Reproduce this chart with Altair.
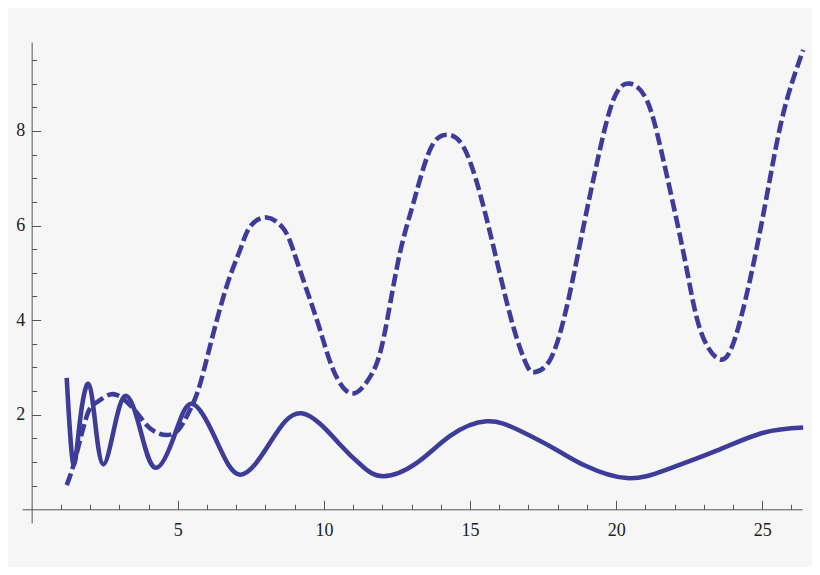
import altair as alt
import pandas as pd

# Solid curve
solid_x = [1.20, 1.42, 1.65, 1.94, 2.18, 2.45, 2.82, 3.22, 3.70, 4.22, 4.88, 5.48,
           6.30, 7.13, 8.15, 9.24, 10.55, 11.30, 12.03, 13.18, 14.32, 15.57, 16.71,
           17.95, 18.95, 20.36, 21.73, 23.44, 25.04, 26.40]
solid_y = [2.78, 0.97, 1.85, 2.65, 1.80, 0.95, 1.70, 2.40, 1.72, 0.88, 1.55, 2.23,
           1.48, 0.73, 1.40, 2.03, 1.37, 0.92, 0.70, 0.98, 1.55, 1.86, 1.66,
           1.26, 0.92, 0.66, 0.84, 1.24, 1.62, 1.73]

# Dashed curve
dash_x = [1.20, 1.48, 1.88, 2.17, 2.51, 2.90, 3.42, 3.88, 4.22, 4.62, 5.02, 5.36,
          5.70, 6.10, 6.67, 7.13, 7.47, 8.04, 8.61, 8.95, 9.41, 9.87, 10.32, 10.95,
          11.58, 12.03, 12.55, 13.06, 13.63, 14.20, 14.77, 15.34, 15.91, 16.48,
          16.94, 17.22, 17.74, 18.31, 18.88, 19.34, 19.90, 20.48, 21.05, 21.51,
          21.97, 22.42, 22.88, 23.50, 24.01, 24.58, 25.15, 25.72, 26.40]
dash_y = [0.51, 1.04, 1.96, 2.24, 2.38, 2.42, 2.17, 1.82, 1.64, 1.57, 1.68, 2.03,
          2.52, 3.44, 4.71, 5.48, 5.97, 6.17, 5.94, 5.48, 4.64, 3.79, 2.95, 2.45,
          2.80, 3.58, 5.27, 6.47, 7.60, 7.92, 7.67, 6.68, 5.27, 3.86,
          3.05, 2.90, 3.16, 4.28, 5.97, 7.31, 8.65, 9.00, 8.65, 7.67,
          6.40, 5.06, 3.79, 3.18, 3.51, 4.85, 6.61, 8.37, 9.71]

x_minor = list(range(1, 27))
x_major = [5, 10, 15, 20, 25]
y_minor = [i * 0.5 for i in range(1, 20)]
y_major = [2, 4, 6, 8]

X_DOMAIN = [-0.33, 26.36]
Y_DOMAIN = [-0.29, 9.88]
W, H = 780, 481
PX0 = (0 - X_DOMAIN[0]) / (X_DOMAIN[1] - X_DOMAIN[0]) * W
PY0 = (Y_DOMAIN[1] - 0) / (Y_DOMAIN[1] - Y_DOMAIN[0]) * H

LINE = "#3d3d99"
AX = "#555555"
FONT = "Liberation Serif"

solid_df = pd.DataFrame({"x": solid_x, "y": solid_y})
dash_df = pd.DataFrame({"x": dash_x, "y": dash_y})

xs = alt.Scale(domain=X_DOMAIN, nice=False, zero=False)
ys = alt.Scale(domain=Y_DOMAIN, nice=False, zero=False)

solid = alt.Chart(solid_df).mark_line(
    color=LINE, strokeWidth=4.6, interpolate="natural"
).encode(
    x=alt.X("x:Q", scale=xs, axis=alt.Axis(
        orient="top", offset=-PY0, values=x_minor, tickSize=5, tickColor=AX,
        tickWidth=1, domain=False, grid=False, title=None,
        labelExpr="datum.value % 5 == 0 ? '' + datum.value : ''",
        labelPadding=-17, labelBaseline="top", labelFont=FONT, labelFontSize=18,
        labelColor="#222222", labelOverlap=False, labelFlush=False)),
    y=alt.Y("y:Q", scale=ys, axis=alt.Axis(
        orient="right", offset=PX0 - W, values=y_minor, tickSize=5, tickColor=AX,
        tickWidth=1, domain=False, grid=False, title=None,
        labelExpr="datum.value % 2 == 0 ? '' + datum.value : ''",
        labelPadding=-12, labelAlign="right", labelBaseline="middle",
        labelFont=FONT, labelFontSize=18, labelColor="#222222",
        labelOverlap=False, labelFlush=False)),
)

dashed = alt.Chart(dash_df).mark_line(
    color=LINE, strokeWidth=4.6, strokeDash=[12.5, 4.5], interpolate="natural"
).encode(
    x=alt.X("x:Q", scale=xs, axis=alt.Axis(
        orient="top", offset=-PY0, values=x_major, tickSize=9, tickColor=AX,
        tickWidth=1, domain=True, domainColor=AX, domainWidth=1, grid=False,
        labels=False, title=None)),
    y=alt.Y("y:Q", scale=ys, axis=alt.Axis(
        orient="right", offset=PX0 - W, values=y_major, tickSize=9, tickColor=AX,
        tickWidth=1, domain=True, domainColor=AX, domainWidth=1, grid=False,
        labels=False, title=None)),
)

chart = alt.layer(solid, dashed).resolve_axis(
    x="independent", y="independent"
).properties(
    width=W, height=H, autosize="none",
    padding={"left": 14, "top": 34, "right": 10, "bottom": 44},
    background="#f6f6f6",
).configure_view(stroke=None)

chart.save("out.html", embed_options={"renderer": "svg", "actions": False})
